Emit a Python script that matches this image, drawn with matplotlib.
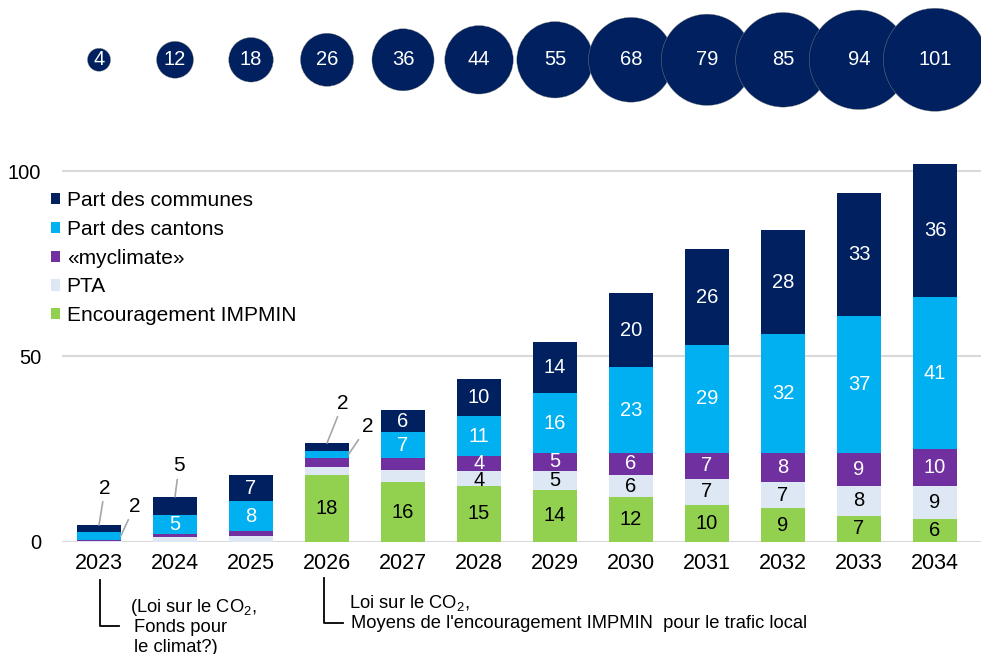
import matplotlib.pyplot as plt

plt.rcParams['font.family'] = ['Liberation Sans', 'DejaVu Sans']
plt.rcParams['mathtext.fontset'] = 'custom'
plt.rcParams['mathtext.rm'] = 'Liberation Sans'
plt.rcParams['mathtext.it'] = 'Liberation Sans:italic'

years = ['2023', '2024', '2025', '2026', '2027', '2028',
         '2029', '2030', '2031', '2032', '2033', '2034']
impmin = [0, 0, 0, 18, 16, 15, 14, 12, 10, 9, 7, 6]
pta = [0.2, 1.3, 1.6, 2.2, 3.4, 4, 5, 6, 7, 7, 8, 9]
myclimate = [0.3, 0.8, 1.3, 2.4, 3.1, 4, 5, 6, 7, 8, 9, 10]
cantons = [2, 5, 8, 2, 7, 11, 16, 23, 29, 32, 37, 41]
communes = [2, 5, 7, 2, 6, 10, 14, 20, 26, 28, 33, 36]
totals = [4, 12, 18, 26, 36, 44, 55, 68, 79, 85, 94, 101]

series = [
    ('Encouragement IMPMIN', impmin, '#92D050', 'black'),
    ('PTA', pta, '#DEE8F4', 'black'),
    ('«myclimate»', myclimate, '#7030A0', 'white'),
    ('Part des cantons', cantons, '#00B0F0', 'white'),
    ('Part des communes', communes, '#002060', 'white'),
]

# small segments labelled outside the bar: (bar, series, where, offset in px)
outside = [
    (0, 'Part des communes', 'top', (6, 37)),
    (0, 'Part des cantons', 'side', (14, 30)),
    (1, 'Part des communes', 'top', (4, 31)),
    (3, 'Part des communes', 'top', (16, 40)),
    (3, 'Part des cantons', 'side', (19, 28)),
]

W, H = 981, 654
fig = plt.figure(figsize=(W / 100, H / 100), dpi=100)
unit = 3.707
ax = fig.add_axes([62 / W, 1 - 541.7 / H, (W - 62) / W, 110 * unit / H])

x = list(range(len(years)))
width = 0.57
bottoms = [0] * len(years)
mids = {}
for name, vals, color, tcolor in series:
    ax.bar(x, vals, width, bottom=bottoms, color=color, label=name, zorder=3)
    skip = {i for i, s, _, _ in outside if s == name}
    mids[name] = [b + v / 2 for b, v in zip(bottoms, vals)]
    for i, (b, v) in enumerate(zip(bottoms, vals)):
        if v >= 4 and i not in skip:
            # the PTA 4 of 2028 sits a bit low so it clears the label above
            yoff = -0.4 if (name == 'PTA' and v == 4) else 0
            ax.text(i, b + v / 2 + yoff, f'{v:g}', ha='center', va='center',
                    color=tcolor, fontsize=14.5, zorder=4)
    bottoms = [b + v for b, v in zip(bottoms, vals)]

values = {name: vals for name, vals, _, _ in series}
for i, name, where, off in outside:
    if where == 'top':
        xy = (i, bottoms[i])
    else:
        xy = (i + width / 2, mids[name][i])
    ax.annotate(f'{values[name][i]:g}', xy=xy, xytext=off,
                textcoords='offset pixels', ha='center', va='center',
                fontsize=15, annotation_clip=False,
                arrowprops=dict(arrowstyle='-', color='#A6A6A6', lw=1.2,
                                shrinkA=1, shrinkB=0))

# totals as bubbles above the bars
ax.scatter(x, [130] * len(x), s=[54 * t + 60 for t in totals], color='#002060',
           edgecolors='#a09c86', linewidths=0.25, clip_on=False, zorder=5)
for i, t in enumerate(totals):
    ax.text(i, 130, str(t), ha='center', va='center', color='white',
            fontsize=14.5, zorder=6, clip_on=False)

ax.set_xlim(-0.487, 11.605)
ax.set_ylim(0, 110)
ax.set_yticks([0, 50, 100])
ax.set_xticks(x)
ax.set_xticklabels(years)
ax.tick_params(axis='x', length=0, pad=8, labelsize=15.5)
ax.tick_params(axis='y', length=0, pad=15, labelsize=14.5)
ax.grid(axis='y', color='#D9D9D9', lw=1.5, zorder=0)
for sp in ax.spines.values():
    sp.set_visible(False)

handles, labels = ax.get_legend_handles_labels()
fig.legend(handles[::-1], labels[::-1], loc='upper left',
           bbox_to_anchor=(51 / W, 1 - 191 / H), frameon=False,
           fontsize=15, handlelength=0.45, handleheight=0.45,
           handletextpad=0.3, labelspacing=0.47, borderpad=0,
           borderaxespad=0)


def fx(px):
    return px / W


def fy(py):
    return 1 - py / H


# brackets under 2023 and 2026 with notes
for x0, y0, y1, x1 in [(100, 580, 626, 119), (324, 578, 623, 343)]:
    fig.add_artist(plt.Line2D([fx(x0), fx(x0), fx(x1)],
                              [fy(y0), fy(y1), fy(y1)],
                              color='black', lw=1.3))

notes = [
    (130, 607, '(Loi sur le CO$_2$,'),
    (134, 627, 'Fonds pour'),
    (134, 647, 'le climat?)'),
    (349, 603, 'Loi sur le CO$_2$,'),
    (351, 623, "Moyens de l'encouragement IMPMIN  pour le trafic local"),
]
for px, py, s in notes:
    fig.text(fx(px), fy(py), s, ha='left', va='center', fontsize=13.2)

fig.savefig('out.png', dpi=100)
